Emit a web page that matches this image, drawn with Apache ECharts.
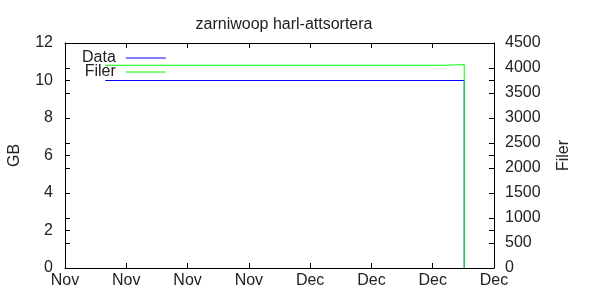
<!DOCTYPE html>
<html>
<head>
<meta charset="utf-8">
<script src="https://cdn.jsdelivr.net/npm/echarts@6/dist/echarts.min.js"></script>
<style>html,body{margin:0;padding:0;background:#fff}#c{width:600px;height:300px}</style>
</head>
<body>
<div id="c"></div>
<script>
// x in days from first tick
const xTickLabels = ['Nov','Nov','Nov','Nov','Dec','Dec','Dec','Dec'];
const dataX = [4.6, 45.6, 45.6];
const dataGB = [10, 10, 0];
const filerX = [4.6, 43.3, 43.3, 45.6, 45.6];
const filerCount = [4055, 4055, 4068, 4068, 0];

const FONT = 'Liberation Sans';
const FS = 16;
const chart = echarts.init(document.getElementById('c'), null, {renderer: 'canvas'});
const lbl = {fontFamily: FONT, fontSize: FS, color: '#222'};
const line = {show: true, onZero: false, lineStyle: {color: '#000', width: 1}};
const noLine = {show: false, onZero: false};
const tick = {show: true, inside: true, length: 5, lineStyle: {color: '#000'}};
const num = v => String(v);

chart.setOption({
  animation: false,
  title: {text: 'zarniwoop harl-attsortera', left: 279, textAlign: 'center', top: 12,
    textStyle: {fontFamily: FONT, fontSize: 16, fontWeight: 'normal', color: '#222'}},
  legend: {
    orient: 'vertical', left: 77, top: 45, align: 'right', itemGap: -2,
    itemWidth: 40, itemHeight: 12,
    textStyle: {fontFamily: FONT, fontSize: FS, lineHeight: 12, color: '#222', padding: [0, 5, 0, 0]},
    data: [
      {name: 'Data', icon: 'path://M0,0L40,0L40,1L0,1Z', itemStyle: {color: '#0000ff'}},
      {name: 'Filer', icon: 'path://M0,0L40,0L40,1L0,1Z', itemStyle: {color: '#00ff00'}}
    ]
  },
  grid: {left: 65, right: 106, top: 43, bottom: 32, containLabel: false, outerBoundsMode: 'none'},
  xAxis: [
    {type: 'value', min: 0, max: 49, interval: 7, position: 'bottom', offset: 0,
      axisLine: line, axisTick: tick, splitLine: {show: false},
      axisLabel: Object.assign({margin: 5, showMaxLabel: true, showMinLabel: true,
        formatter: v => xTickLabels[Math.round(v / 7)]}, lbl)},
    {type: 'value', min: 0, max: 49, interval: 7, position: 'top', offset: 0,
      axisLine: line, axisTick: tick, splitLine: {show: false}, axisLabel: {show: false}}
  ],
  yAxis: [
    {type: 'value', name: 'GB', min: 0, max: 12, interval: 2, position: 'left', offset: 0,
      nameLocation: 'middle', nameGap: 42, nameRotate: 90, nameTextStyle: lbl,
      axisLine: line, axisTick: tick, splitLine: {show: false},
      axisLabel: Object.assign({margin: 12, formatter: num}, lbl)},
    {type: 'value', name: 'Filer', min: 0, max: 4500, interval: 500, position: 'right', offset: 0,
      nameLocation: 'middle', nameGap: 62, nameRotate: 90, nameTextStyle: lbl,
      axisLine: line, axisTick: tick, splitLine: {show: false},
      axisLabel: Object.assign({margin: 11, formatter: num}, lbl)},
    {type: 'value', min: 0, max: 12, interval: 2, position: 'right', offset: 0,
      axisLine: noLine, axisTick: tick, splitLine: {show: false}, axisLabel: {show: false}},
    {type: 'value', min: 0, max: 4500, interval: 500, position: 'left', offset: 0,
      axisLine: noLine, axisTick: tick, splitLine: {show: false}, axisLabel: {show: false}}
  ],
  series: [
    {name: 'Data', type: 'line', yAxisIndex: 0, symbol: 'none',
      itemStyle: {color: '#0000ff'}, lineStyle: {width: 1, color: '#0000ff'},
      data: dataX.map((x, i) => [x, dataGB[i]])},
    {name: 'Filer', type: 'line', yAxisIndex: 1, symbol: 'none',
      itemStyle: {color: '#00ff00'}, lineStyle: {width: 1, color: '#00ff00'},
      data: filerX.map((x, i) => [x, filerCount[i]])}
  ]
});
</script>
</body>
</html>
